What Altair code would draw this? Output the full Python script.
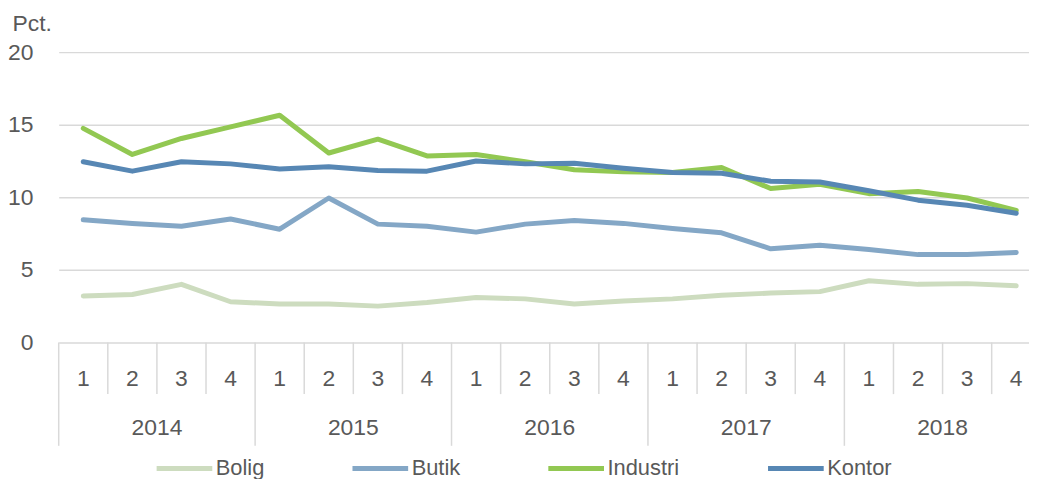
import altair as alt
import pandas as pd

# ---- data ----
years = ["2014", "2015", "2016", "2017", "2018"]
quarters = ["1", "2", "3", "4"]
series = ["Bolig", "Butik", "Industri", "Kontor"]
colors = ["#cddcbf", "#84a7c6", "#92c852", "#5787b4"]

bolig = [3.2, 3.3, 4.0, 2.8, 2.65, 2.65, 2.5, 2.75, 3.1, 3.0,
         2.65, 2.85, 3.0, 3.25, 3.4, 3.5, 4.25, 4.0, 4.05, 3.9]
butik = [8.45, 8.2, 8.0, 8.5, 7.8, 9.95, 8.15, 8.0, 7.6, 8.15,
         8.4, 8.2, 7.85, 7.55, 6.45, 6.7, 6.4, 6.05, 6.05, 6.2]
industri = [14.75, 12.95, 14.05, 14.85, 15.65, 13.05, 14.0, 12.85, 12.95, 12.45,
            11.9, 11.75, 11.7, 12.05, 10.6, 10.9, 10.25, 10.4, 9.95, 9.1]
kontor = [12.45, 11.8, 12.45, 12.3, 11.95, 12.1, 11.85, 11.8, 12.5, 12.3,
          12.35, 12.0, 11.7, 11.65, 11.1, 11.05, 10.45, 9.8, 9.45, 8.9]

values = {"Bolig": bolig, "Butik": butik, "Industri": industri, "Kontor": kontor}

FONT = "Liberation Sans"
TXT = "#595959"
GRID = "#d9d9d9"
FS = 23

n = len(years) * len(quarters)
rows = []
for s in series:
    for i, v in enumerate(values[s]):
        rows.append({"x": i + 0.5, "value": v, "serie": s})
df = pd.DataFrame(rows)

qdf = pd.DataFrame([{"x": yi * 4 + qi + 0.5, "label": q}
                    for yi in range(len(years)) for qi, q in enumerate(quarters)])
ydf = pd.DataFrame([{"x": yi * 4 + 2, "label": y} for yi, y in enumerate(years)])
sep_short = pd.DataFrame([{"x": float(i)} for i in range(n + 1) if i % 4 != 0])
sep_long = pd.DataFrame([{"x": float(i)} for i in range(n + 1) if i % 4 == 0])

W = 976
H = 292
PX = H / 20.0  # pixels per unit on the y scale
xscale = alt.Scale(domain=[0, 19.76], nice=False, zero=False)
yscale = alt.Scale(domain=[0, 20], nice=False)

lines = alt.Chart(df).mark_line(strokeWidth=5, strokeCap="round", strokeJoin="round").encode(
    x=alt.X("x:Q", scale=xscale, axis=None),
    y=alt.Y("value:Q", scale=yscale,
            axis=alt.Axis(values=[0, 5, 10, 15, 20], grid=True, gridColor=GRID, gridWidth=1.5,
                          domain=False, ticks=False, labelPadding=26, labelFontSize=FS,
                          labelColor=TXT, labelFont=FONT,
                          title="Pct.", titleAngle=0, titleAlign="left", titleBaseline="middle",
                          titleX=-47, titleY=-29, titleFontSize=FS, titleFont=FONT,
                          titleColor=TXT, titleFontWeight="normal")),
    color=alt.Color("serie:N", scale=alt.Scale(domain=series, range=colors),
                    legend=alt.Legend(title=None, orient="none", legendX=96, legendY=388,
                                      direction="horizontal", symbolType="stroke",
                                      symbolStrokeWidth=5, symbolSize=3136,
                                      labelFontSize=22, labelFont=FONT, labelColor=TXT,
                                      labelOffset=1, columnPadding=78)),
)

rule_short = alt.Chart(sep_short).mark_rule(color=GRID, strokeWidth=1.5).encode(
    x=alt.X("x:Q", scale=xscale, axis=None),
    y=alt.datum(0, scale=yscale), y2=alt.datum(-52 / PX))
rule_long = alt.Chart(sep_long).mark_rule(color=GRID, strokeWidth=1.5).encode(
    x=alt.X("x:Q", scale=xscale, axis=None),
    y=alt.datum(0, scale=yscale), y2=alt.datum(-104 / PX))

qtext = alt.Chart(qdf).mark_text(fontSize=FS, font=FONT, color=TXT, baseline="middle").encode(
    x=alt.X("x:Q", scale=xscale, axis=None), y=alt.datum(-37 / PX, scale=yscale), text="label:N")
ytext = alt.Chart(ydf).mark_text(fontSize=FS, font=FONT, color=TXT, baseline="middle").encode(
    x=alt.X("x:Q", scale=xscale, axis=None), y=alt.datum(-86 / PX, scale=yscale), text="label:N")

chart = alt.layer(lines, rule_short, rule_long, qtext, ytext).properties(
    width=W, height=H,
    autosize=alt.AutoSizeParams(type="none"),
    padding={"left": 51, "top": 43, "right": 0, "bottom": 136},
).configure_view(stroke="transparent")

chart.save("out.html", embed_options={"renderer": "svg", "actions": False})
